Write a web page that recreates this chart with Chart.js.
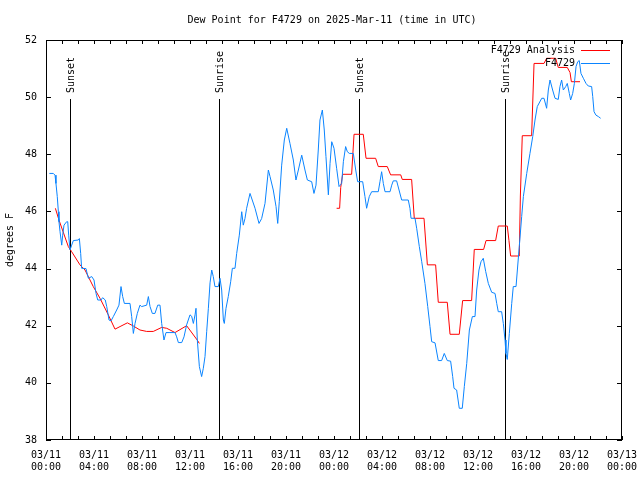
<!DOCTYPE html>
<html>
<head>
<meta charset="utf-8">
<script src="https://cdn.jsdelivr.net/npm/chart.js@4.4.1/dist/chart.umd.min.js"></script>
<style>
  html, body { margin: 0; padding: 0; background: #fff; }
  canvas { display: block; }
</style>
</head>
<body>
<canvas id="dewChart" width="640" height="480"></canvas>
<script>
// chart text
const titleText = "Dew Point for F4729 on 2025-Mar-11 (time in UTC)";
const yTitle = "degrees F";

// axes (x is hours since 03/11 00:00 UTC)
const xMajorHours = [0, 4, 8, 12, 16, 20, 24, 28, 32, 36, 40, 44, 48];
const xDateLabels = ["03/11", "03/11", "03/11", "03/11", "03/11", "03/11", "03/12", "03/12", "03/12", "03/12", "03/12", "03/12", "03/13"];
const xTimeLabels = ["00:00", "04:00", "08:00", "12:00", "16:00", "20:00", "00:00", "04:00", "08:00", "12:00", "16:00", "20:00", "00:00"];
const yTicks = [38, 40, 42, 44, 46, 48, 50, 52];

// sun events
const eventHours = [2.0, 14.4, 26.05, 38.27];
const eventNames = ["Sunset", "Sunrise", "Sunset", "Sunrise"];

// F4729 observations
const obsHours = [
  0.28, 0.61, 0.75, 0.83, 0.94, 1.03, 1.08, 1.17, 1.31, 1.39, 1.5, 1.72, 1.81, 1.89, 2.0, 2.14, 2.28, 2.69, 2.78, 2.89,
  2.97, 3.33, 3.53, 3.81, 4.0, 4.17, 4.31, 4.58, 4.72, 4.94, 5.06, 5.25, 5.42, 5.61, 5.89, 6.08, 6.25, 6.39, 6.53, 7.0,
  7.14, 7.28, 7.42, 7.61, 7.83, 7.97, 8.39, 8.53, 8.67, 8.86, 9.08, 9.31, 9.5, 9.64, 9.83, 10.0, 10.33, 10.75, 10.89, 11.03,
  11.31, 11.5, 11.72, 12.0, 12.14, 12.28, 12.42, 12.5, 12.61, 12.78, 12.97, 13.11, 13.25, 13.39, 13.53, 13.67, 13.81, 13.94, 14.08, 14.36,
  14.5, 14.64, 14.78, 14.86, 15.0, 15.19, 15.39, 15.53, 15.75, 15.89, 16.11, 16.31, 16.44, 16.58, 16.72, 17.0, 17.42, 17.75, 17.97, 18.25,
  18.53, 18.67, 18.94, 19.17, 19.31, 19.44, 19.64, 19.86, 20.06, 20.33, 20.61, 20.83, 21.03, 21.31, 21.58, 21.78, 22.14, 22.33, 22.5, 22.69,
  22.83, 23.03, 23.19, 23.33, 23.53, 23.67, 23.81, 24.0, 24.22, 24.42, 24.64, 24.78, 24.97, 25.11, 25.28, 25.61, 25.81, 25.97, 26.39, 26.58,
  26.72, 26.94, 27.14, 27.69, 27.83, 27.97, 28.11, 28.25, 28.67, 28.81, 28.94, 29.22, 29.42, 29.64, 30.19, 30.33, 30.42, 30.75, 30.89, 31.11,
  31.31, 31.58, 31.81, 32.0, 32.14, 32.42, 32.69, 32.97, 33.19, 33.44, 33.72, 33.89, 34.0, 34.22, 34.44, 34.69, 34.86, 35.06, 35.28, 35.53,
  35.75, 35.89, 36.08, 36.25, 36.44, 36.64, 36.86, 37.14, 37.42, 37.56, 37.69, 37.97, 38.11, 38.25, 38.33, 38.44, 38.61, 38.81, 38.94, 39.17,
  39.28, 39.44, 39.64, 39.78, 40.06, 40.33, 40.56, 40.75, 40.94, 41.31, 41.5, 41.72, 41.86, 42.0, 42.22, 42.42, 42.69, 42.83, 42.97, 43.11,
  43.31, 43.44, 43.61, 43.72, 43.89, 44.03, 44.17, 44.31, 44.44, 44.58, 44.78, 45.0, 45.19, 45.47, 45.56, 45.67, 45.83, 46.03, 46.22
];
const obsDew = [
  47.33, 47.33, 47.27, 46.98, 46.52, 45.99, 45.64, 45.29, 44.82, 45.17, 45.52, 45.64, 45.64, 45.17, 44.65, 44.82, 44.98, 45.0, 45.05, 44.53,
  44.01, 44.0, 43.66, 43.72, 43.6, 43.13, 42.9, 42.9, 42.98, 42.9, 42.67, 42.2, 42.17, 42.32, 42.55, 42.72, 43.37, 43.02, 42.78, 42.78,
  42.32, 41.73, 42.08, 42.43, 42.72, 42.67, 42.72, 43.02, 42.67, 42.43, 42.43, 42.72, 42.72, 42.08, 41.5, 41.76, 41.76, 41.76, 41.61, 41.41,
  41.41, 41.61, 42.03, 42.38, 42.33, 42.08, 42.38, 42.61, 41.5, 40.57, 40.22, 40.51, 40.92, 41.79, 42.61, 43.5, 43.95, 43.72, 43.37, 43.37,
  43.66, 43.25, 42.2, 42.08, 42.61, 43.02, 43.54, 44.01, 44.01, 44.53, 45.17, 45.99, 45.52, 45.75, 46.11, 46.63, 46.11, 45.58, 45.75, 46.28,
  47.45, 47.22, 46.75, 46.17, 45.58, 46.34, 47.62, 48.5, 48.91, 48.38, 47.8, 47.1, 47.45, 47.97, 47.45, 47.1, 47.04, 46.63, 46.92, 48.15,
  49.2, 49.55, 48.85, 47.92, 46.58, 47.68, 48.44, 48.21, 47.51, 46.87, 46.98, 47.74, 48.27, 48.09, 48.03, 48.03, 47.45, 47.04, 47.04, 46.52,
  46.11, 46.52, 46.69, 46.69, 47.04, 47.39, 46.98, 46.69, 46.69, 46.92, 47.07, 47.07, 46.75, 46.4, 46.4, 46.11, 45.76, 45.76, 45.41, 44.77,
  44.24, 43.48, 42.67, 41.97, 41.44, 41.4, 40.78, 40.78, 41.03, 40.78, 40.76, 40.22, 39.81, 39.75, 39.11, 39.11, 39.87, 40.68, 41.85, 42.32,
  42.32, 43.25, 43.95, 44.24, 44.36, 43.9, 43.48, 43.17, 43.13, 42.78, 42.49, 42.49, 42.08, 41.5, 41.03, 40.82, 41.73, 42.78, 43.37, 43.37,
  43.95, 44.77, 45.82, 46.52, 47.33, 48.03, 48.62, 49.2, 49.67, 49.96, 49.96, 49.61, 50.25, 50.6, 50.25, 49.96, 49.92, 50.37, 50.6, 50.25,
  50.37, 50.48, 50.13, 49.9, 50.13, 50.48, 51.07, 51.24, 51.28, 50.83, 50.66, 50.48, 50.39, 50.37, 50.02, 49.49, 49.37, 49.32, 49.26
];

// F4729 Analysis (null = no analysis)
const anaHours = [
  0.78, 1.08, 1.86, 2.14, 2.83, 3.25, 3.94, 4.5, 5.19, 5.75, 6.17, 6.78, 7.28, 7.83, 8.39, 8.94, 9.64, 10.06, 10.75, 11.72,
  12.6, 12.78, 18.0,
  24.22, 24.47, 24.56, 24.72, 25.47, 25.67, 26.44, 26.67, 27.47, 27.69, 28.44, 28.72, 29.56, 29.69, 30.47, 30.69, 31.5, 31.78,
  32.47, 32.69, 33.44, 33.67, 34.44, 34.72, 35.47, 35.69, 36.47, 36.67, 37.47, 37.69, 38.44, 38.58, 38.72, 39.44, 39.53, 39.69,
  40.47, 40.67, 41.5, 41.72, 42.47, 42.69, 43.44, 43.67, 43.78, 44.5
];
const anaDew = [
  46.11, 45.7, 44.77, 44.59, 44.13, 43.95, 43.37, 42.96, 42.38, 41.88, 41.97, 42.1, 41.99, 41.85, 41.8, 41.8, 41.94, 41.91, 41.76, 42.0,
  41.5, 41.38, null,
  46.11, 46.11, 46.84, 47.3, 47.3, 48.7, 48.7, 47.86, 47.86, 47.57, 47.57, 47.28, 47.28, 47.12, 47.12, 45.76, 45.76, 44.13,
  44.13, 42.82, 42.82, 41.7, 41.7, 42.88, 42.88, 44.67, 44.67, 44.98, 44.98, 45.49, 45.49, 44.98, 44.44, 44.44, 46.54, 48.65,
  48.65, 51.18, 51.18, 51.36, 51.36, 51.04, 51.04, 50.86, 50.54, 50.54
];

const FONT = "'DejaVu Sans Mono', monospace";
Chart.defaults.font.family = FONT;
Chart.defaults.font.size = 10;
Chart.defaults.color = "#000";

const toPoints = (xs, ys) => xs.map((x, i) => ({ x: x, y: ys[i] }));

// gnuplot-like frame, inward ticks, sun markers, legend and title
const decorations = {
  id: "decorations",
  beforeDatasetsDraw(chart) {
    const { ctx, chartArea: a, scales: { x } } = chart;
    ctx.save();
    ctx.strokeStyle = "#000";
    ctx.lineWidth = 1;
    ctx.fillStyle = "#000";
    ctx.font = "10px " + FONT;
    eventHours.forEach((h, i) => {
      const px = Math.round(x.getPixelForValue(h)) + 0.5;
      ctx.beginPath();
      ctx.moveTo(px, a.top + 59);
      ctx.lineTo(px, a.bottom);
      ctx.stroke();
      ctx.save();
      ctx.translate(px + 1, a.top + 53);
      ctx.rotate(-Math.PI / 2);
      ctx.textAlign = "left";
      ctx.textBaseline = "middle";
      ctx.fillText(eventNames[i], 0, 0);
      ctx.restore();
    });
    ctx.restore();
  },
  afterDatasetsDraw(chart) {
    const { ctx, chartArea: a, scales: { x, y } } = chart;
    ctx.save();
    ctx.strokeStyle = "#000";
    ctx.lineWidth = 1;
    ctx.strokeRect(a.left + 0.5, a.top + 0.5, a.right - a.left - 1, a.bottom - a.top - 1);

    ctx.beginPath();
    for (let i = 0; i <= 36; i++) {
      const px = Math.round(x.getPixelForValue(i * 4 / 3)) + 0.5;
      ctx.moveTo(px, a.bottom); ctx.lineTo(px, a.bottom - 4);
      ctx.moveTo(px, a.top); ctx.lineTo(px, a.top + 4);
    }
    yTicks.forEach(v => {
      const py = Math.round(y.getPixelForValue(v)) + 0.5;
      ctx.moveTo(a.left, py); ctx.lineTo(a.left + 5, py);
      ctx.moveTo(a.right, py); ctx.lineTo(a.right - 5, py);
    });
    ctx.stroke();

    // legend
    ctx.font = "10px " + FONT;
    ctx.textAlign = "right";
    ctx.textBaseline = "middle";
    chart.data.datasets.forEach((ds, i) => {
      const ly = a.top + 10.5 + i * 13;
      ctx.fillStyle = "#000";
      ctx.fillText(ds.label, 575, ly);
      ctx.strokeStyle = ds.borderColor;
      ctx.beginPath();
      ctx.moveTo(581, ly); ctx.lineTo(610, ly);
      ctx.stroke();
    });

    // title
    ctx.fillStyle = "#000";
    ctx.textAlign = "center";
    ctx.fillText(titleText, 332, 20);
    ctx.restore();
  }
};

new Chart(document.getElementById("dewChart"), {
  type: "line",
  data: {
    datasets: [{
      label: "F4729 Analysis",
      data: toPoints(anaHours, anaDew),
      borderColor: "#ff0000",
      borderWidth: 1,
      pointRadius: 0,
      tension: 0,
      order: 1
    }, {
      label: "F4729",
      data: toPoints(obsHours, obsDew),
      borderColor: "#0a84ff",
      borderWidth: 1,
      pointRadius: 0,
      tension: 0,
      order: 0
    }]
  },
  options: {
    responsive: false,
    animation: false,
    devicePixelRatio: 1,
    layout: { padding: { top: 40, right: 18, left: 0, bottom: 0 } },
    plugins: {
      legend: { display: false },
      title: { display: false },
      tooltip: { enabled: false }
    },
    scales: {
      x: {
        type: "linear",
        min: 0,
        max: 48,
        grid: { display: false, drawTicks: false },
        border: { display: false },
        afterBuildTicks: s => { s.ticks = xMajorHours.map(v => ({ value: v })); },
        afterFit: s => {
          s.height = 40;
          s.paddingLeft = 0;
          s.paddingRight = 0;
        },
        ticks: {
          autoSkip: false,
          maxRotation: 0,
          minRotation: 0,
          padding: 9,
          font: { size: 10, lineHeight: 1.2 },
          callback: v => {
            const i = xMajorHours.indexOf(v);
            return i < 0 ? "" : [xDateLabels[i], xTimeLabels[i]];
          }
        }
      },
      y: {
        min: 38,
        max: 52,
        grid: { display: false, drawTicks: false },
        border: { display: false },
        afterBuildTicks: s => { s.ticks = yTicks.map(v => ({ value: v })); },
        afterFit: s => { s.width = 46; },
        ticks: { padding: 9, font: { size: 10 } },
        title: { display: true, text: yTitle, padding: { top: 4, bottom: 0 }, font: { size: 10 } }
      }
    }
  },
  plugins: [decorations]
});
</script>
</body>
</html>
